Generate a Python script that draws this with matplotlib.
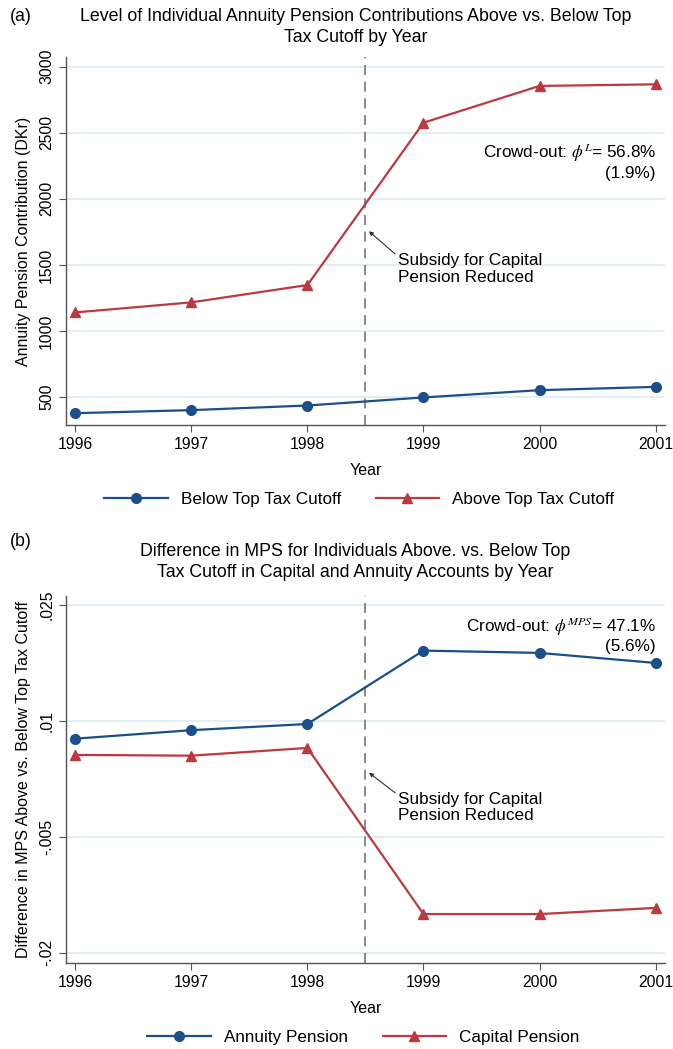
import matplotlib
matplotlib.use("Agg")
import matplotlib.pyplot as plt

plt.rcParams["font.family"] = ["Liberation Sans", "DejaVu Sans"]
plt.rcParams["mathtext.fontset"] = "stix"

years = [1996, 1997, 1998, 1999, 2000, 2001]

# Panel (a): annuity pension contribution levels (DKr)
below_cutoff = [379, 402, 437, 498, 553, 578]
above_cutoff = [1141, 1217, 1348, 2576, 2854, 2866]
a_ticks = [500, 1000, 1500, 2000, 2500, 3000]

# Panel (b): difference in MPS above vs. below the cutoff
annuity_mps = [0.0077, 0.0088, 0.0096, 0.0191, 0.0188, 0.0175]
capital_mps = [0.0056, 0.0055, 0.0065, -0.0150, -0.0150, -0.0142]
b_ticks = [-0.02, -0.005, 0.01, 0.025]
b_ticklabels = ["-.02", "-.005", ".01", ".025"]

reform_year = 1998.5

BLUE = "#1b4f8a"
RED = "#bb3a40"
GRID = "#dcebf2"
AXC = "#555555"
TITLE_FS = 12.8
TEXT_FS = 12.3
TITLE_X = 0.528


def style_axes(ax):
    for s in ["top", "right"]:
        ax.spines[s].set_visible(False)
    for s in ["left", "bottom"]:
        ax.spines[s].set_color(AXC)
        ax.spines[s].set_linewidth(1.0)
    ax.tick_params(colors=AXC, labelcolor="black", labelsize=11.3, length=5)
    ax.tick_params(axis="y", labelrotation=90)
    for lab in ax.get_yticklabels():
        lab.set_va("center")
    ax.yaxis.grid(True, color=GRID, linewidth=1.2)
    ax.set_axisbelow(True)
    ax.set_xticks(years)
    ax.set_xlim(1995.92, 2001.08)
    ax.set_xlabel("Year", fontsize=11.5, labelpad=8)
    ax.axvline(reform_year, color="#777777", linestyle=(0, (6, 4)), linewidth=1.2, zorder=1)


fig = plt.figure(figsize=(6.73, 10.49), dpi=100)

# ---- panel (a)
ax1 = fig.add_axes([0.098, 0.5949, 0.890, 0.3508])
ax1.plot(years, below_cutoff, color=BLUE, marker="o", markersize=7, linewidth=1.6,
         label="Below Top Tax Cutoff", zorder=3)
ax1.plot(years, above_cutoff, color=RED, marker="^", markersize=7, linewidth=1.6,
         label="Above Top Tax Cutoff", zorder=3)
ax1.set_ylim(290, 3073)
ax1.set_yticks(a_ticks)
ax1.set_yticklabels([str(t) for t in a_ticks])
style_axes(ax1)
ax1.set_ylabel("Annuity Pension Contribution (DKr)", fontsize=11.5, labelpad=6)
ax1.text(0.985, 0.717, "Crowd-out: $\\phi^{L}$= 56.8%\n(1.9%)", transform=ax1.transAxes,
         ha="right", va="center", fontsize=TEXT_FS, linespacing=1.1)
ax1.annotate("Subsidy for Capital\nPension Reduced", xy=(1998.53, 1755), xytext=(1998.78, 1470),
             fontsize=TEXT_FS, ha="left", va="center", linespacing=1.1,
             arrowprops=dict(arrowstyle="-|>", color="#333333", lw=0.8, mutation_scale=6,
                             shrinkA=0, shrinkB=0, relpos=(0.0, 0.9)))
ax1.legend(loc="upper center", bbox_to_anchor=(0.49, -0.14), ncol=2, frameon=False,
           fontsize=TEXT_FS, handlelength=3.7, columnspacing=2.0)
fig.text(0.015, 0.984, "(a)", fontsize=TITLE_FS, va="center", ha="left")
fig.text(TITLE_X, 0.984, "Level of Individual Annuity Pension Contributions Above vs. Below Top",
         fontsize=TITLE_FS, ha="center", va="center")
fig.text(TITLE_X, 0.964, "Tax Cutoff by Year", fontsize=TITLE_FS, ha="center", va="center")

# ---- panel (b)
ax2 = fig.add_axes([0.098, 0.0820, 0.890, 0.3498])
ax2.plot(years, annuity_mps, color=BLUE, marker="o", markersize=7, linewidth=1.6,
         label="Annuity Pension", zorder=3)
ax2.plot(years, capital_mps, color=RED, marker="^", markersize=7, linewidth=1.6,
         label="Capital Pension", zorder=3)
ax2.set_ylim(-0.02133, 0.02616)
ax2.set_yticks(b_ticks)
ax2.set_yticklabels(b_ticklabels)
style_axes(ax2)
ax2.set_ylabel("Difference in MPS Above vs. Below Top Tax Cutoff", fontsize=11.5, labelpad=6)
ax2.text(0.985, 0.896, "Crowd-out: $\\phi^{MPS}$= 47.1%\n(5.6%)", transform=ax2.transAxes,
         ha="right", va="center", fontsize=TEXT_FS, linespacing=1.1)
ax2.annotate("Subsidy for Capital\nPension Reduced", xy=(1998.53, 0.0033), xytext=(1998.78, -0.0012),
             fontsize=TEXT_FS, ha="left", va="center", linespacing=1.1,
             arrowprops=dict(arrowstyle="-|>", color="#333333", lw=0.8, mutation_scale=6,
                             shrinkA=0, shrinkB=0, relpos=(0.0, 0.9)))
ax2.legend(loc="upper center", bbox_to_anchor=(0.497, -0.14), ncol=2, frameon=False,
           fontsize=TEXT_FS, handlelength=3.7, columnspacing=2.0)
fig.text(0.015, 0.484, "(b)", fontsize=TITLE_FS, va="center", ha="left")
fig.text(TITLE_X, 0.474, "Difference in MPS for Individuals Above. vs. Below Top",
         fontsize=TITLE_FS, ha="center", va="center")
fig.text(TITLE_X, 0.454, "Tax Cutoff in Capital and Annuity Accounts by Year",
         fontsize=TITLE_FS, ha="center", va="center")

fig.savefig("out.png", dpi=100)
